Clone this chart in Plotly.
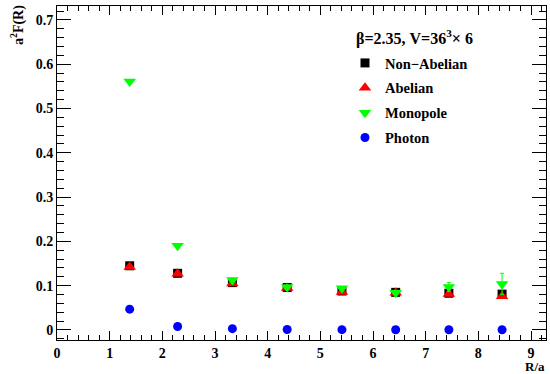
import plotly.graph_objects as go

R = [1.38, 2.29, 3.33, 4.37, 5.41, 6.43, 7.44, 8.45]
non_abelian = [0.145, 0.128, 0.107, 0.096, 0.088, 0.085, 0.083, 0.081]
non_abelian_err = [0.003, 0.003, 0.003, 0.003, 0.003, 0.003, 0.003, 0.004]
abelian = [0.142, 0.127, 0.105, 0.095, 0.086, 0.084, 0.081, 0.076]
abelian_err = [0.002, 0.002, 0.002, 0.002, 0.002, 0.004, 0.003, 0.004]
monopole = [0.561, 0.190, 0.113, 0.097, 0.094, 0.084, 0.097, 0.104]
monopole_err = [0.002, 0.002, 0.004, 0.003, 0.003, 0.004, 0.010, 0.024]
photon = [0.047, 0.008, 0.003, 0.001, 0.0008, 0.0006, 0.0005, 0.0005]

FONT = "Liberation Serif"
L, Rm, T, B = 57, 4, 6, 34
W, H = 550, 374
plot_w = W - L - Rm
plot_h = H - T - B

def px(x):
    return (x - L) / plot_w

def py(y):
    return (H - B - y) / plot_h

fig = go.Figure()

def add(name, y, err, color, symbol, size, group):
    fig.add_trace(go.Scatter(
        x=R, y=y, mode="markers", name=name, legendgroup=group,
        marker=dict(color=color, symbol=symbol, size=size, line=dict(width=0)),
        error_y=dict(type="data", array=err, visible=True,
                     color=color, thickness=1, width=2) if err is not None else None,
    ))

add("Non\u2212Abelian", non_abelian, non_abelian_err, "#000000", "square", 9, "a")
add("Abelian", abelian, abelian_err, "#ff0000", "triangle-up", 11, "b")
add("Monopole", monopole, monopole_err, "#00ff00", "triangle-down", 11, "c")
add("Photon", photon, None, "#0000ff", "circle", 9, "d")

fig.update_layout(
    width=W, height=H,
    margin=dict(l=L, r=Rm, t=T, b=B),
    paper_bgcolor="white", plot_bgcolor="white",
    font=dict(family=FONT, size=14, color="black", weight="bold"),
    showlegend=True,
    legend=dict(x=px(345), y=py(47), xanchor="left", yanchor="top",
                bgcolor="rgba(0,0,0,0)", tracegroupgap=3,
                font=dict(family=FONT, size=14.5, weight="bold")),
    annotations=[
        dict(text="\u03b2=2.35, V=36<sup>3</sup>\u00d7 6", x=px(354), y=py(37),
             xref="paper", yref="paper", showarrow=False,
             xanchor="left", yanchor="middle",
             font=dict(family=FONT, size=16, weight="bold")),
        dict(text="R/a", x=px(547), y=py(366), xref="paper", yref="paper",
             showarrow=False, xanchor="right", yanchor="middle",
             font=dict(family=FONT, size=13, weight="bold")),
        dict(text="a<sup>2</sup>F(R)", x=px(17), y=py(3), xref="paper", yref="paper",
             showarrow=False, xanchor="center", yanchor="top", textangle=-90,
             font=dict(family=FONT, size=14, weight="bold")),
    ],
)

fig.update_xaxes(
    range=[0, 9.284], dtick=1, tick0=0,
    ticks="inside", ticklen=9, tickwidth=1, tickcolor="black",
    showline=True, linecolor="black", linewidth=1, mirror="allticks",
    showgrid=False, zeroline=False,
    minor=dict(dtick=0.2, ticks="inside", ticklen=5, tickcolor="black", showgrid=False),
    tickfont=dict(family=FONT, size=14, weight="bold"),
    ticklabelstandoff=0,
)
fig.update_yaxes(
    range=[-0.0226, 0.7316], dtick=0.1, tick0=0,
    ticks="inside", ticklen=14, tickwidth=1, tickcolor="black",
    showline=True, linecolor="black", linewidth=1, mirror="allticks",
    showgrid=False, zeroline=False,
    minor=dict(dtick=0.02, ticks="inside", ticklen=7, tickcolor="black", showgrid=False),
    tickfont=dict(family=FONT, size=14, weight="bold"),
)

fig.write_html("out.html")
